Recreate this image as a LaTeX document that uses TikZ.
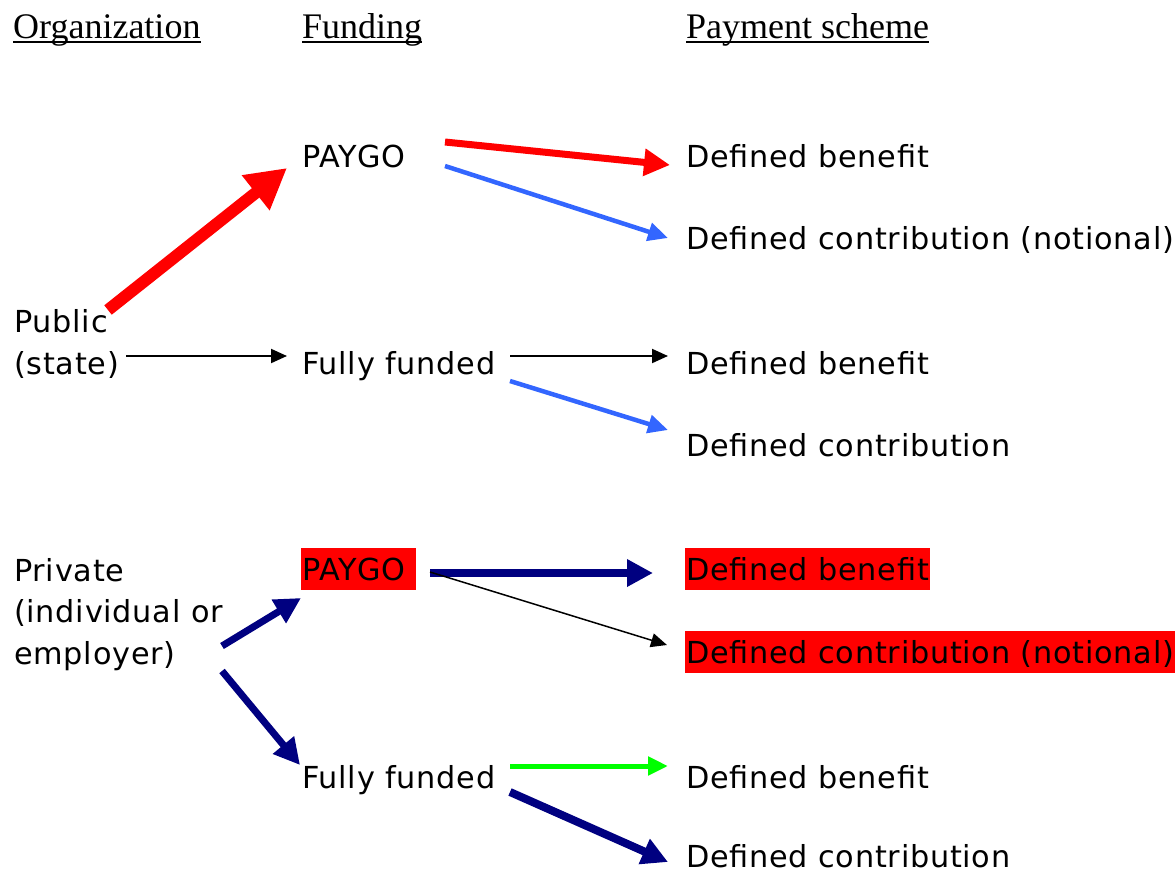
\documentclass[tikz,border=0pt]{standalone}
\usepackage{fontspec}
\setmainfont{DejaVu Sans}
\newfontfamily\bodyfont[LetterSpace=2.5]{DejaVu Sans}
\newfontfamily\headfont{Liberation Serif}
\usetikzlibrary{arrows.meta}
\definecolor{pred}{HTML}{FF0000}
\definecolor{pblue}{HTML}{3366FF}
\definecolor{pnavy}{HTML}{000080}
\definecolor{pgreen}{HTML}{00FF00}
\begin{document}
\begin{tikzpicture}[x=1pt,y=-1pt,
  txt/.style={anchor=base west, inner sep=0pt, font=\bodyfont\fontsize{30.3}{34}\selectfont},
  hl/.style={txt, fill=pred, inner xsep=1pt, text height=32pt, text depth=10pt},
  head/.style={anchor=base west, inner sep=0pt, font=\headfont\fontsize{36}{40}\selectfont},
  uline/.style={line width=2pt},
  thinarr/.style={line width=2pt, -{Triangle[length=16pt,width=14pt]}},
  medarr/.style={line width=4.5pt, -{Triangle[length=20pt,width=18pt]}},
  fatarr/.style={line width=7.5pt, -{Triangle[length=26pt,width=26pt]}},
  hugearr/.style={line width=12pt, -{Triangle[length=40pt,width=42pt]}}
]
\useasboundingbox (0,0) rectangle (1176,873);
% headings
\node[head] (hOrg) at (13,38) {Organization};
\node[head] (hFund) at (302,38) {Funding};
\node[head] (hPay) at (686,38) {Payment scheme};
\draw[uline] ([yshift=-4pt]hOrg.base west) -- ([yshift=-4pt]hOrg.base east);
\draw[uline] ([yshift=-4pt]hFund.base west) -- ([yshift=-4pt]hFund.base east);
\draw[uline] ([yshift=-4pt]hPay.base west) -- ([yshift=-4pt]hPay.base east);
% public
\node[txt] (pub1) at (14,332) {Public};
\node[txt] (pub2) at (14,374) {(state)};
\node[txt] (payA) at (302,167) {PAYGO};
\node[txt] (dbA) at (686,167) {Defined benefit};
\node[txt] (dcnA) at (686,249) {Defined contribution (notional)};
\node[txt] (ffA) at (302,374) {Fully funded};
\node[txt] (dbB) at (686,374) {Defined benefit};
\node[txt] (dcB) at (686,456) {Defined contribution};
% private
\node[txt] (pri1) at (14,581) {Private};
\node[txt] (pri2) at (14,622) {(individual or};
\node[txt] (pri3) at (14,664) {employer)};
\node[hl, text width=113pt] (payB) at (301,580) {PAYGO};
\node[hl] (dbC) at (685,580) {Defined benefit};
\node[hl] (dcnC) at (685,663) {Defined contribution (notional)};
\node[txt] (ffB) at (302,788) {Fully funded};
\node[txt] (dbD) at (686,788) {Defined benefit};
\node[txt] (dcD) at (686,867) {Defined contribution};
% connector ends
\coordinate (c1s) at (108,310); \coordinate (c1e) at (287,168);
\coordinate (c2s) at (445,142); \coordinate (c2e) at (670,165);
\coordinate (c3s) at (445,166); \coordinate (c3e) at (668,238);
\coordinate (c4s) at (126,356); \coordinate (c4e) at (287,356);
\coordinate (c5s) at (510,356); \coordinate (c5e) at (668,356);
\coordinate (c6s) at (510,381); \coordinate (c6e) at (668,430);
\coordinate (c7s) at (430,573); \coordinate (c7e) at (653,573);
\coordinate (c8s) at (430,572); \coordinate (c8e) at (667,645);
\coordinate (c9s) at (222,646); \coordinate (c9e) at (301,598);
\coordinate (c10s) at (222,671); \coordinate (c10e) at (300,765);
\coordinate (c11s) at (510,766); \coordinate (c11e) at (668,766);
\coordinate (c12s) at (510,792); \coordinate (c12e) at (668,862);
% connectors
\draw[hugearr, pred] (c1s) -- (c1e);
\draw[fatarr, pred, line width=7pt] (c2s) -- (c2e);
\draw[medarr, pblue] (c3s) -- (c3e);
\draw[thinarr] (c4s) -- (c4e);
\draw[thinarr] (c5s) -- (c5e);
\draw[medarr, pblue] (c6s) -- (c6e);
\draw[fatarr, pnavy] (c7s) -- (c7e);
\draw[thinarr, line width=1.5pt] (c8s) -- (c8e);
\draw[fatarr, pnavy, line width=7pt] (c9s) -- (c9e);
\draw[fatarr, pnavy, line width=7pt] (c10s) -- (c10e);
\draw[medarr, pgreen, line width=5pt] (c11s) -- (c11e);
\draw[fatarr, pnavy, line width=8pt] (c12s) -- (c12e);
\end{tikzpicture}
\end{document}
